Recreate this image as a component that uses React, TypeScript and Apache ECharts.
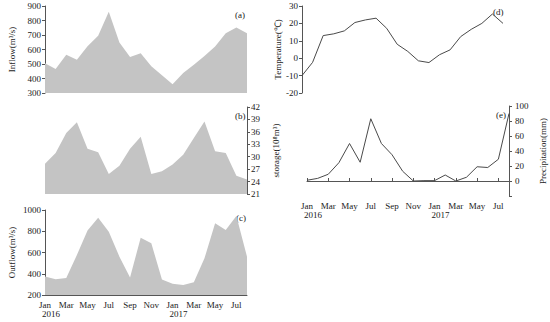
import React, { useEffect, useRef } from "react";
import * as echarts from "echarts";

const months = ["Jan","Feb","Mar","Apr","May","Jun","Jul","Aug","Sep","Oct","Nov","Dec","Jan","Feb","Mar","Apr","May","Jun","Jul","Aug"];
const yearAtIndex: Record<number, string> = { 0: "2016", 12: "2017" };

const inflow = [505, 465, 564, 529, 623, 694, 861, 648, 548, 575, 484, 422, 360, 438, 495, 556, 621, 712, 751, 712];
const storage = [28.3, 30.9, 35.7, 38.3, 31.9, 31.1, 25.8, 27.8, 31.9, 34.8, 25.8, 26.5, 28.1, 30.5, 34.5, 38.5, 31.3, 30.9, 25.4, 24.5];
const outflow = [375, 348, 360, 577, 806, 928, 796, 561, 364, 740, 687, 345, 305, 295, 320, 545, 875, 812, 944, 561];
const temperature = [-10, -2.4, 13, 14, 15.7, 20.5, 22, 23, 17.2, 8, 3.9, -1.5, -2.5, 2, 4.8, 12.4, 16.6, 20, 25.4, 20];
const precipitation = [1, 3.5, 9, 24.4, 50, 25, 83, 50, 35, 13, 0, 0.5, 0.5, 8, 0, 5, 19, 18, 29, 90];

const FONT = "'Liberation Serif', 'Times New Roman', serif";
const AXIS = "#555";
const TXT = "#1a1a1a";
const FILL = "#c4c4c4";
const LINE = "#4a4a4a";

function yAxisBase(extra: any) {
  return {
    type: "value",
    splitLine: { show: false },
    axisLine: { show: true, lineStyle: { color: AXIS, width: 1 } },
    axisTick: { show: true, length: 3, lineStyle: { color: AXIS } },
    axisLabel: {
      color: TXT, fontFamily: FONT, fontSize: 9, margin: 4,
      showMinLabel: true, showMaxLabel: true, hideOverlap: false,
      formatter: (v: number) => String(v),
    },
    nameLocation: "middle",
    nameTextStyle: { color: TXT, fontFamily: FONT, fontSize: 9 },
    ...extra,
  };
}

function monthAxis(gridIndex: number, show: boolean) {
  return {
    type: "category",
    gridIndex,
    data: months,
    boundaryGap: false,
    show,
    axisLine: { show: true, lineStyle: { color: AXIS, width: 1 } },
    axisTick: { show: true, inside: true, length: 3, interval: 1, lineStyle: { color: AXIS } },
    axisLabel: {
      interval: 1,
      showMinLabel: true,
      hideOverlap: false,
      color: TXT,
      fontFamily: FONT,
      fontSize: 9,
      margin: 5,
    },
    splitLine: { show: false },
  };
}

function yearAxis(gridIndex: number) {
  return {
    type: "category",
    gridIndex,
    data: months,
    boundaryGap: false,
    position: "bottom",
    axisLine: { show: false },
    axisTick: { show: false },
    splitLine: { show: false },
    axisLabel: {
      interval: 0,
      showMinLabel: true,
      hideOverlap: false,
      color: TXT,
      fontFamily: FONT,
      fontSize: 9,
      margin: 14,
      padding: [0, 0, 0, 12],
      formatter: (_v: string, i: number) => yearAtIndex[i] || "",
    },
  };
}

function areaSeries(data: number[], idx: number) {
  return {
    type: "line",
    xAxisIndex: idx,
    yAxisIndex: idx,
    data,
    symbol: "none",
    lineStyle: { width: 0 },
    itemStyle: { color: FILL },
    areaStyle: { color: FILL, opacity: 1, origin: "start" },
  };
}

function panelLabel(text: string, x: number, y: number) {
  return {
    type: "text",
    left: x,
    top: y,
    style: { text, fill: TXT, font: "9px " + FONT },
  };
}

export default function App() {
  const ref = useRef<HTMLDivElement>(null);
  useEffect(() => {
    if (!ref.current) return;
    const chart = echarts.init(ref.current, undefined, { renderer: "svg" });
    chart.setOption({
      animation: false,
      backgroundColor: "#fff",
      grid: [
        { left: 45, right: 303, top: 6, bottom: 229 },
        { left: 45, right: 303, top: 107, bottom: 128 },
        { left: 45, right: 303, top: 210, bottom: 27 },
        { left: 302, right: 47, top: 6, bottom: 229 },
        { left: 307, right: 41, top: 106, bottom: 126 },
      ],
      xAxis: [
        monthAxis(0, false),
        monthAxis(1, false),
        monthAxis(2, true),
        monthAxis(3, false),
        monthAxis(4, true),
        yearAxis(2),
        yearAxis(4),
      ],
      yAxis: [
        yAxisBase({ gridIndex: 0, min: 300, max: 900, interval: 100, name: "Inflow(m³/s)", nameGap: 29 }),
        yAxisBase({ gridIndex: 1, position: "right", min: 21, max: 42, interval: 3, name: "storage(10⁸m³)", nameGap: 24 }),
        yAxisBase({ gridIndex: 2, min: 200, max: 1000, interval: 200, name: "Outflow(m³/s)", nameGap: 29 }),
        yAxisBase({ gridIndex: 3, min: -20, max: 30, interval: 10, name: "Temperature(℃)", nameGap: 19 }),
        yAxisBase({
          gridIndex: 4,
          position: "right",
          min: -20,
          max: 100,
          interval: 20,
          name: "Precipitation(mm)",
          nameGap: 29,
          axisLabel: {
            color: TXT, fontFamily: FONT, fontSize: 9, margin: 6,
            showMinLabel: true, showMaxLabel: true, hideOverlap: false,
            formatter: (v: number) => (v < 0 ? "" : String(v)),
          },
        }),
      ],
      series: [
        areaSeries(inflow, 0),
        areaSeries(storage, 1),
        areaSeries(outflow, 2),
        {
          type: "line", xAxisIndex: 3, yAxisIndex: 3, data: temperature, symbol: "none",
          lineStyle: { color: LINE, width: 1 }, itemStyle: { color: LINE },
        },
        {
          type: "line", xAxisIndex: 4, yAxisIndex: 4, data: precipitation, symbol: "none",
          lineStyle: { color: LINE, width: 1 }, itemStyle: { color: LINE },
        },
      ],
      graphic: [
        panelLabel("(a)", 235, 10),
        panelLabel("(b)", 235, 111),
        panelLabel("(c)", 236, 213),
        panelLabel("(d)", 493, 7),
        panelLabel("(e)", 496, 110),
      ],
    });
    return () => chart.dispose();
  }, []);
  return <div ref={ref} style={{ position: "fixed", left: 0, top: 0, width: 550, height: 322 }} />;
}
